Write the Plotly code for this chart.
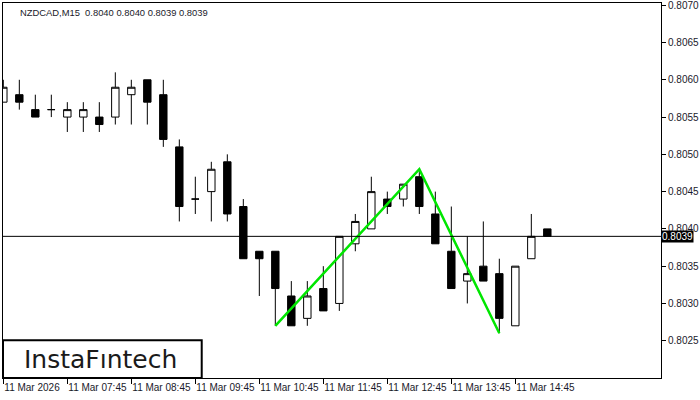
import plotly.graph_objects as go

# ---- data ----
tick_labels = ["11 Mar 2026", "11 Mar 07:45", "11 Mar 08:45", "11 Mar 09:45", "11 Mar 10:45",
               "11 Mar 11:45", "11 Mar 12:45", "11 Mar 13:45", "11 Mar 14:45"]
tick_positions = [0, 4, 8, 12, 16, 20, 24, 28, 32]
price_ticks = [0.8025, 0.8030, 0.8035, 0.8040, 0.8045, 0.8050, 0.8055, 0.8060, 0.8065, 0.8070]

opens = [0.8057, 0.8058, 0.8056, 0.8056, 0.8055, 0.8055, 0.8055, 0.8055, 0.8058, 0.8060,
         0.8058, 0.8051, 0.8044, 0.8045, 0.8049, 0.8043, 0.8037, 0.8037, 0.8031, 0.8028,
         0.8032, 0.8030, 0.8038, 0.8040, 0.8044, 0.8044, 0.8047, 0.8042, 0.8037, 0.8033,
         0.8035, 0.8034, 0.8027, 0.8036, 0.8040]
highs = [0.8060, 0.8060, 0.8058, 0.8058, 0.8057, 0.8057, 0.8057, 0.8061, 0.8060, 0.8060,
         0.8060, 0.8052, 0.8047, 0.8049, 0.8050, 0.8044, 0.8037, 0.8037, 0.8033, 0.8033,
         0.8035, 0.8039, 0.8042, 0.8047, 0.8045, 0.8046, 0.8048, 0.8045, 0.8043, 0.8039,
         0.8041, 0.8036, 0.8035, 0.8042, 0.8040]
lows = [0.8057, 0.8056, 0.8055, 0.8055, 0.8053, 0.8053, 0.8053, 0.8054, 0.8054, 0.8054,
        0.8051, 0.8041, 0.8042, 0.8041, 0.8041, 0.8036, 0.8031, 0.8027, 0.8027, 0.8027,
        0.8029, 0.8029, 0.8037, 0.8040, 0.8042, 0.8043, 0.8042, 0.8038, 0.8032, 0.8030,
        0.8033, 0.8026, 0.8027, 0.8036, 0.8039]
closes = [0.8059, 0.8057, 0.8055, 0.8056, 0.8056, 0.8056, 0.8054, 0.8059, 0.8059, 0.8057,
          0.8052, 0.8043, 0.8044, 0.8048, 0.8042, 0.8036, 0.8036, 0.8032, 0.8027, 0.8031,
          0.8029, 0.8039, 0.8041, 0.8045, 0.8043, 0.8046, 0.8043, 0.8038, 0.8032, 0.8034,
          0.8033, 0.8028, 0.8035, 0.8039, 0.8039]
bar_index = list(range(len(opens)))

pattern_index = [17, 26, 31]
pattern_price = [0.8027, 0.8048, 0.8026]

title_text = "NZDCAD,M15\u00a0\u00a00.8040 0.8040 0.8039 0.8039"
logo_text = "InstaFıntech"

# ---- figure ----
fig = go.Figure()
fig.add_trace(go.Candlestick(
    x=bar_index, open=opens, high=highs, low=lows, close=closes,
    increasing=dict(fillcolor="white", line=dict(color="black", width=1)),
    decreasing=dict(fillcolor="black", line=dict(color="black", width=1)),
    whiskerwidth=0, hoverinfo="skip", showlegend=False,
))
fig.add_trace(go.Scatter(
    x=pattern_index, y=pattern_price, mode="lines",
    line=dict(color="#00e600", width=2.5), hoverinfo="skip", showlegend=False,
))

last_close = closes[-1]
fig.add_shape(type="line", xref="paper", x0=0, x1=1, yref="y", y0=last_close, y1=last_close,
              line=dict(color="black", width=1))

fig.add_annotation(xref="paper", x=1, xanchor="left", xshift=0, yref="y", y=last_close,
                   text=f"{last_close:.4f}", showarrow=False, bgcolor="black",
                   font=dict(color="white", size=10, family="Liberation Sans"), borderpad=0)

fig.add_annotation(xref="paper", yref="paper", x=0.0228, y=0.976, xanchor="left", yanchor="middle",
                   text=title_text, showarrow=False,
                   font=dict(color="#1a1a2a", size=9.4, family="Liberation Sans"))

fig.add_shape(type="rect", xref="paper", yref="paper", x0=0, x1=0.302, y0=0, y1=0.101,
              line=dict(color="black", width=2), fillcolor="white", layer="above")
fig.add_annotation(xref="paper", yref="paper", x=0.148, y=0.05, xanchor="center", yanchor="middle",
                   text=logo_text, showarrow=False,
                   font=dict(color="#1a1a1a", size=25, family="DejaVu Sans"))

fig.update_layout(
    width=700, height=400,
    margin=dict(l=3, r=39, t=3, b=22, autoexpand=False),
    paper_bgcolor="white", plot_bgcolor="white",
    boxgap=0.34,
    xaxis=dict(range=[-0.02, 41.105], tickvals=tick_positions, ticktext=tick_labels,
               ticks="outside", ticklen=5, tickcolor="black", showgrid=False, zeroline=False,
               showline=True, linecolor="black", linewidth=1, mirror=True, automargin=False,
               tickangle=0, rangeslider=dict(visible=False), ticklabelposition="outside right",
               tickfont=dict(size=10, family="Liberation Sans", color="#1a1a2a")),
    yaxis=dict(range=[0.80200, 0.80703], side="right", tickvals=price_ticks,
               tickformat=".4f", ticks="outside", ticklen=4, tickcolor="black",
               showgrid=False, zeroline=False, showline=True, linecolor="black",
               linewidth=1, mirror=True, automargin=False, ticklabeloverflow="allow",
               tickfont=dict(size=10, family="Liberation Sans", color="#1a1a2a")),
)

fig.write_html("out.html", config={"displayModeBar": False},
               post_script="document.body.style.margin='0';document.body.style.overflow='hidden';")
